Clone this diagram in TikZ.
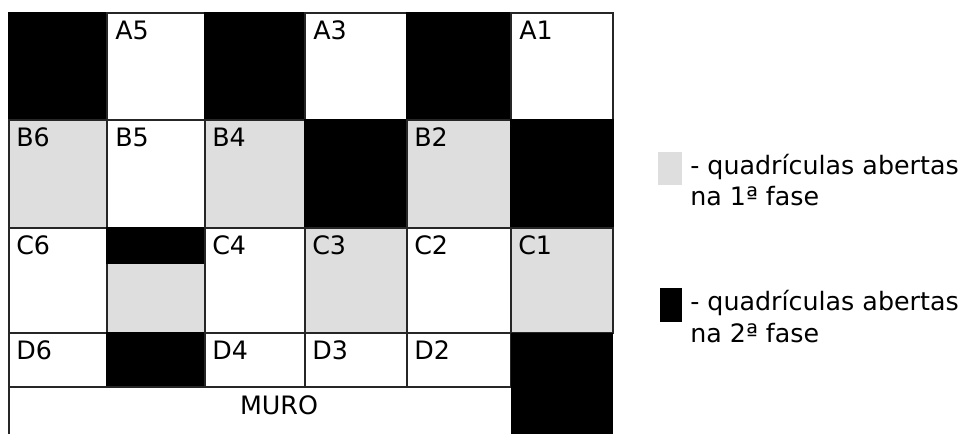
\documentclass[tikz,border=0pt]{standalone}
\usepackage{fontspec}
\setmainfont{DejaVu Sans}
\begin{document}
\begin{tikzpicture}[x=0.75pt, y=-0.75pt, line join=miter,
  cell/.style={draw=black!85, line width=0.9pt, fill=white},
  fase1/.style={draw=black!85, line width=0.9pt, fill=black!13},
  fase2/.style={draw=black, line width=0.9pt, fill=black},
  lbl/.style={anchor=base west, inner sep=0pt, font=\fontsize{19}{23}\selectfont}]
  \useasboundingbox (0,0) rectangle (964,434);
  % row A
  \draw[fase2] (9,13) rectangle (107,120);
  \draw[cell] (107,13) rectangle (205,120);
  \draw[fase2] (205,13) rectangle (305,120);
  \draw[cell] (305,13) rectangle (407,120);
  \draw[fase2] (407,13) rectangle (511,120);
  \draw[cell] (511,13) rectangle (613,120);
  % row B
  \draw[fase1] (9,120) rectangle (107,228);
  \draw[cell] (107,120) rectangle (205,228);
  \draw[fase1] (205,120) rectangle (305,228);
  \draw[fase2] (305,120) rectangle (407,228);
  \draw[fase1] (407,120) rectangle (511,228);
  \draw[fase2] (511,120) rectangle (613,228);
  % row C
  \draw[cell] (9,228) rectangle (107,333);
  \draw[fase1] (107,263) rectangle (205,333);
  \draw[fase2] (107,228) rectangle (205,263);
  \draw[cell] (205,228) rectangle (305,333);
  \draw[fase1] (305,228) rectangle (407,333);
  \draw[cell] (407,228) rectangle (511,333);
  \draw[fase1] (511,228) rectangle (613,333);
  % row D
  \draw[cell] (9,333) rectangle (107,387);
  \draw[fase2] (107,333) rectangle (205,387);
  \draw[cell] (205,333) rectangle (305,387);
  \draw[cell] (305,333) rectangle (407,387);
  \draw[cell] (407,333) rectangle (511,387);
  \fill (511,333) rectangle (613,434);
  % muro
  \draw[black!85, line width=0.9pt] (9,434) -- (9,387) -- (511,387);

  \node[lbl] (a5) at (115,40) {A5};
  \node[lbl] (a3) at (313,40) {A3};
  \node[lbl] (a1) at (519,40) {A1};
  \node[lbl] (b6) at (16,147) {B6};
  \node[lbl] (b5) at (115,147) {B5};
  \node[lbl] (b4) at (212,147) {B4};
  \node[lbl] (b2) at (414,147) {B2};
  \node[lbl] (c6) at (16,255) {C6};
  \node[lbl] (c4) at (212,255) {C4};
  \node[lbl] (c3) at (312,255) {C3};
  \node[lbl] (c2) at (414,255) {C2};
  \node[lbl] (c1) at (518,255) {C1};
  \node[lbl] (d6) at (16,360) {D6};
  \node[lbl] (d4) at (212,360) {D4};
  \node[lbl] (d3) at (312,360) {D3};
  \node[lbl] (d2) at (414,360) {D2};
  \node[lbl, anchor=base] (muro) at (279,415) {MURO};

  % legenda
  \fill[black!13] (658,152) rectangle (682,185);
  \node[lbl] (leg1) at (690,175) {- quadrículas abertas};
  \node[lbl] (leg1b) at (690,206) {na 1ª fase};
  \fill (660,288) rectangle (682,322);
  \node[lbl] (leg2) at (690,311) {- quadrículas abertas};
  \node[lbl] (leg2b) at (690,343) {na 2ª fase};
\end{tikzpicture}
\end{document}
